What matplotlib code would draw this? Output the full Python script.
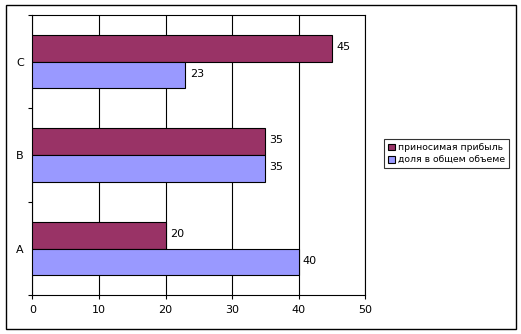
import matplotlib
matplotlib.use("Agg")
import matplotlib.pyplot as plt
from matplotlib.patches import Rectangle
import numpy as np

categories = ["A", "B", "C"]
profit = [20, 35, 45]
share = [40, 35, 23]
series_names = ["приносимая прибыль", "доля в общем объеме"]
x_ticks = [0, 10, 20, 30, 40, 50]

c_profit = "#993366"
c_share = "#9999FF"

fig = plt.figure(figsize=(5.21, 3.34), dpi=100)
fig.patch.set_facecolor("white")
# outer border
fig.patches.append(Rectangle((5.5/521, 1 - 329/334), (515.5-5.5)/521, (329-5)/334,
                             transform=fig.transFigure, fill=False, edgecolor="black", lw=1.0))

ax = fig.add_axes([32.3/521, 1 - 295.3/334, (365.3-32.3)/521, (295.3-15)/334])
y = np.arange(len(categories))
h = 0.286
bp = ax.barh(y + h/2, profit, height=h, color=c_profit, edgecolor="black", lw=0.8, zorder=3,
             label=series_names[0])
bs = ax.barh(y - h/2, share, height=h, color=c_share, edgecolor="black", lw=0.8, zorder=3,
             label=series_names[1])
for bars in (bp, bs):
    for b in bars:
        ax.annotate(f"{int(b.get_width())}", (b.get_width(), b.get_y() + b.get_height()/2),
                    xytext=(3, 1), textcoords="offset points", va="center", ha="left", fontsize=8)

ax.set_xlim(0, 50)
ax.set_ylim(-0.5, 2.5)
ax.set_xticks(x_ticks)
ax.set_xticklabels([str(t) for t in x_ticks], fontsize=8)
ax.set_yticks(y)
ax.set_yticklabels(categories, fontsize=8)
ax.tick_params(axis="y", which="major", length=0, pad=6)
ax.set_yticks([-0.5, 0.5, 1.5, 2.5], minor=True)
ax.tick_params(axis="y", which="minor", length=3, direction="out", width=0.8)
ax.tick_params(axis="x", length=3, direction="out", width=0.8, pad=4)
ax.grid(axis="x", color="black", lw=0.8, zorder=1)
for s in ax.spines.values():
    s.set_color("black")
    s.set_linewidth(0.8)

leg = fig.legend(handles=[bp, bs], labels=series_names, loc="upper left",
                 bbox_to_anchor=(384.3/521, 1 - 139.3/334), fontsize=6.7, frameon=True,
                 fancybox=False, edgecolor="black", handlelength=0.7, handleheight=0.7,
                 handletextpad=0.4, borderpad=0.4, labelspacing=0.4, borderaxespad=0)
leg.get_frame().set_linewidth(0.8)

fig.savefig("out.png", dpi=100)
